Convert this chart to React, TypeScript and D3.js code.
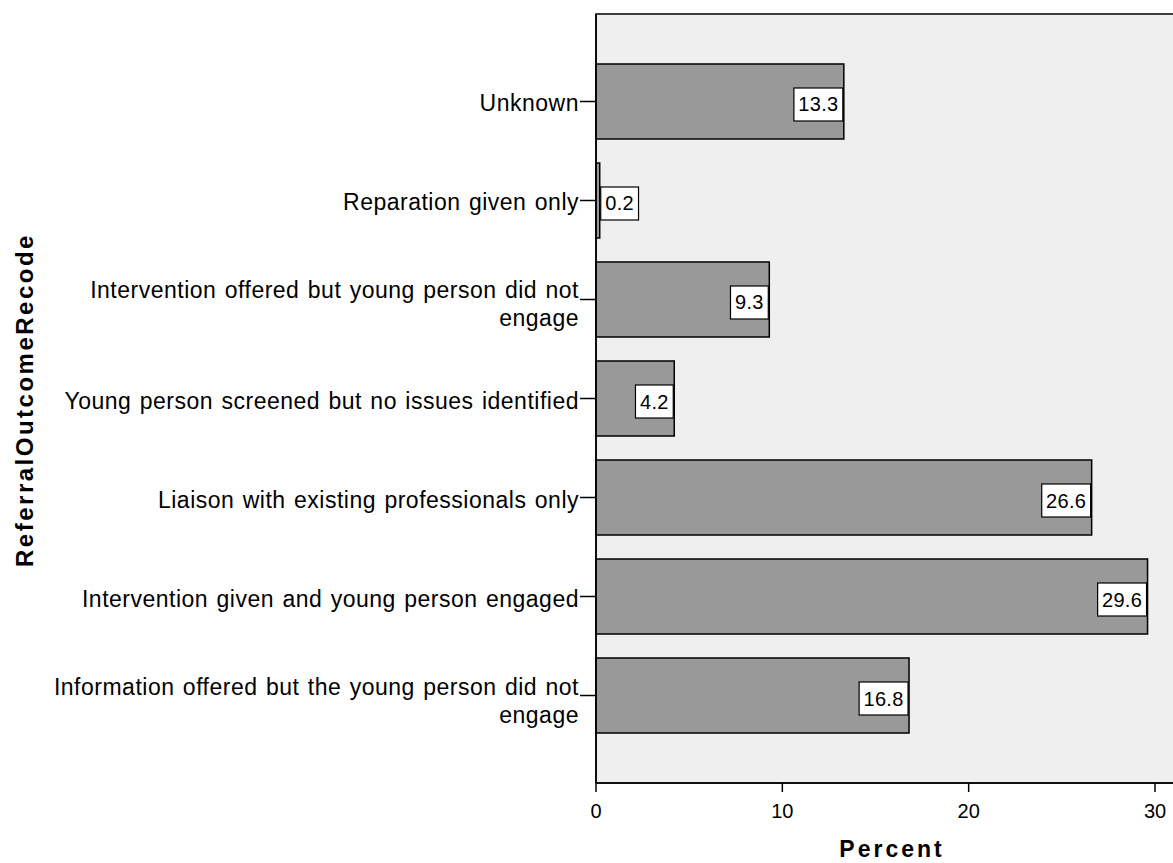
import React from "react";
import * as d3 from "d3";

const categories: string[][] = [
  ["Unknown"],
  ["Reparation given only"],
  ["Intervention offered but young person did not", "engage"],
  ["Young person screened but no issues identified"],
  ["Liaison with existing professionals only"],
  ["Intervention given and young person engaged"],
  ["Information offered but the young person did not", "engage"],
];
const values: number[] = [13.3, 0.2, 9.3, 4.2, 26.6, 29.6, 16.8];
const xTicks: number[] = [0, 10, 20, 30];

const W = 1173;
const H = 863;
const left = 596;
const top = 14;
const bottom = 783;
const FONT = "Arial, 'Liberation Sans', Helvetica, sans-serif";

function labelWidth(s: string, size: number) {
  let w = 0;
  for (const c of s) w += c === "." ? 0.278 : 0.556;
  return w * size;
}

export default function App() {
  const x = d3.scaleLinear().domain([0, 30]).range([left, 1155]);
  const idx = categories.map((_, i) => String(i));
  const y = d3
    .scaleBand<string>()
    .domain(idx)
    .range([top, bottom])
    .paddingInner(0.2424)
    .paddingOuter(0.505);
  const bw = y.bandwidth();
  const catFs = 23;

  return (
    <svg width={W} height={H} style={{ position: "absolute", left: 0, top: 0, fontFamily: FONT }}>
      <rect x={0} y={0} width={W} height={H} fill="#ffffff" />
      <rect x={left} y={top} width={W - left + 2} height={bottom - top} fill="#efefef" stroke="#000" strokeWidth={1.5} />
      {values.map((v, i) => {
        const y0 = y(String(i))!;
        const x1 = x(v);
        const label = v.toFixed(1);
        const fs = 20;
        const boxW = labelWidth(label, fs) + 10;
        const boxH = 33;
        const cy = y0 + bw / 2 + 3;
        let bx = x1 - 1 - boxW;
        if (bx < left + 2) bx = x1 + 1;
        return (
          <g key={i}>
            <rect x={left} y={y0} width={x1 - left} height={bw} fill="#999999" stroke="#000" strokeWidth={1.5} />
            <rect x={bx} y={cy - boxH / 2} width={boxW} height={boxH} fill="#fff" stroke="#000" strokeWidth={1.2} />
            <text x={bx + boxW / 2} y={cy + 7} fontSize={fs} letterSpacing={0.3} textAnchor="middle" fill="#000">
              {label}
            </text>
          </g>
        );
      })}
      {categories.map((lines, i) => {
        const cy = y(String(i))! + bw / 2;
        return (
          <g key={i}>
            <line x1={580} x2={left} y1={cy} y2={cy} stroke="#000" strokeWidth={1.5} />
            {lines.map((t, j) => (
              <text
                key={j}
                x={579}
                y={lines.length === 1 ? cy + 10 : cy - 1 + j * 28}
                fontSize={catFs}
                letterSpacing={0.5}
                wordSpacing={1.5}
                textAnchor="end"
                fill="#000"
              >
                {t}
              </text>
            ))}
          </g>
        );
      })}
      <line x1={left} x2={left} y1={top} y2={bottom} stroke="#000" strokeWidth={1.5} />
      <line x1={left} x2={W} y1={bottom} y2={bottom} stroke="#000" strokeWidth={1.5} />
      {xTicks.map((t) => (
        <g key={t}>
          <line x1={x(t)} x2={x(t)} y1={bottom} y2={bottom + 9} stroke="#000" strokeWidth={1.5} />
          <text x={x(t)} y={818} fontSize={20} textAnchor="middle" fill="#000">
            {t}
          </text>
        </g>
      ))}
      <text x={892} y={857} fontSize={23} fontWeight="bold" letterSpacing={3} textAnchor="middle" fill="#000">
        Percent
      </text>
      <text
        transform={`translate(33,400) rotate(-90)`}
        fontSize={24}
        fontWeight="bold"
        letterSpacing={2.5}
        textAnchor="middle"
        fill="#000"
      >
        ReferralOutcomeRecode
      </text>
    </svg>
  );
}
